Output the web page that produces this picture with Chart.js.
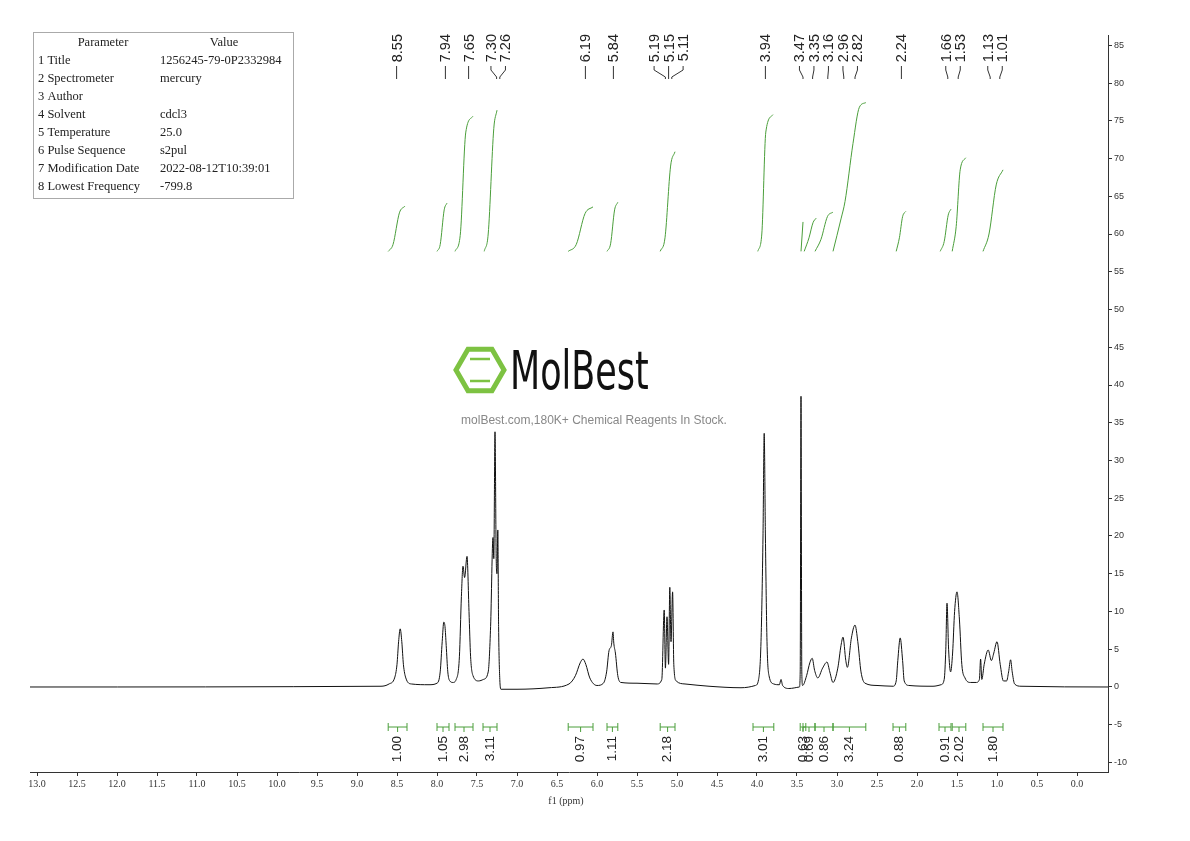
<!DOCTYPE html>
<html><head><meta charset="utf-8">
<script src="https://cdn.jsdelivr.net/npm/chart.js@4/dist/chart.umd.min.js"></script>
<style>html,body{margin:0;padding:0;background:#fff}#w{width:1190px;height:841px}</style>
</head><body><div id="w"><canvas id="c"></canvas></div>
<script>
const spectrum = [[13.09,0],[8.70,0.1],[8.60,0.4],[8.53,1.2],[8.50,3],[8.48,6],[8.46,7.7],[8.44,6],[8.42,3],[8.39,1.2],[8.32,0.4],[8.10,0.3],
[8.00,0.5],[7.96,2],[7.935,6],[7.915,8.6],[7.90,8.0],[7.885,5.5],[7.865,2],[7.84,0.8],[7.80,0.6],
[7.76,1.0],[7.72,4],[7.695,12],[7.675,16],[7.655,14.5],[7.625,17.3],[7.60,10],[7.58,4],[7.55,1.5],[7.48,0.8],[7.42,1.0],
[7.36,2],[7.33,8],[7.30,19.8],[7.29,17],[7.275,33.8],[7.26,17],[7.25,15],[7.24,20.8],[7.23,8],[7.215,1],[7.20,-0.3],[7.0,-0.3],[6.6,-0.1],[6.35,0.4],[6.27,1.5],[6.21,3.2],[6.175,3.7],[6.14,3],[6.09,1.2],[6.0,0.2],
[5.92,0.5],[5.88,2],[5.85,4.8],[5.82,5.5],[5.80,7.3],[5.79,5.8],[5.77,4.5],[5.74,1.5],[5.70,0.6],[5.5,0.5],[5.25,0.4],[5.19,1],[5.16,10.2],[5.145,2.5],[5.125,9.3],[5.105,3],[5.09,13.2],[5.075,6],[5.055,12.6],[5.04,3],[5.01,0.8],[4.9,0.4],[4.6,0.1],[4.2,-0.1],
[4.02,0.2],[3.98,1],[3.95,6],[3.925,20],[3.91,33.6],[3.895,20],[3.875,6],[3.85,1.5],[3.79,0.4],[3.72,0.3],[3.70,1.0],[3.68,0.2],[3.60,-0.2],[3.47,0],[3.46,2],[3.45,38.5],[3.44,2],[3.43,0.2],
[3.38,1.5],[3.34,3.2],[3.31,3.8],[3.28,2.2],[3.24,1.2],[3.18,2.5],[3.125,3.3],[3.09,2],[3.05,0.6],[2.99,2.5],[2.95,5.5],[2.925,6.6],[2.89,3.5],[2.87,2.6],[2.82,6.5],[2.775,8.2],[2.74,6],[2.70,2],[2.65,0.5],[2.5,0.2],
[2.30,0.1],[2.26,0.8],[2.24,3.5],[2.21,6.5],[2.18,3.5],[2.16,0.8],[2.1,0.2],[1.8,0.1],[1.70,0.3],[1.66,1],[1.64,5],[1.625,11.1],[1.605,5],[1.58,2],[1.555,4.5],[1.53,10],[1.50,12.6],[1.47,9],[1.44,3],[1.40,1.2],[1.33,0.6],
[1.26,0.6],[1.22,1],[1.205,3.7],[1.19,1],[1.16,3],[1.11,4.9],[1.07,3.5],[1.04,4.5],[1.00,6.0],[0.96,3],[0.92,0.8],[0.88,0.8],[0.855,2],[0.83,3.6],[0.81,2],[0.78,0.4],[0.70,0.1],[-0.39,0]];

const integralCurves = [
[[8.61,57.7],[8.55,58.6],[8.47,62.8],[8.40,63.7]],
[[8.00,57.7],[7.96,58.6],[7.91,63.2],[7.875,64.1]],
[[7.775,57.7],[7.71,59.8],[7.64,73.5],[7.55,75.6]],
[[7.41,57.7],[7.36,60],[7.29,74],[7.25,76.4]],
[[6.36,57.7],[6.26,58.6],[6.15,62.7],[6.05,63.6]],
[[5.875,57.7],[5.83,58.7],[5.78,63.2],[5.74,64.2]],
[[5.21,57.7],[5.15,59.5],[5.08,69],[5.025,70.9]],
[[3.99,57.7],[3.94,60],[3.89,73.5],[3.80,75.8]],
[[3.45,57.7],[3.425,61.6]],
[[3.41,57.7],[3.35,59.5],[3.30,61.5],[3.26,62.1]],
[[3.275,57.7],[3.20,59.3],[3.12,62.3],[3.05,62.9]],
[[3.05,57.7],[2.95,62],[2.90,64.3],[2.80,72],[2.72,76.8],[2.64,77.4]],
[[2.26,57.7],[2.22,59.5],[2.18,62.3],[2.14,63.0]],
[[1.71,57.7],[1.66,59],[1.61,62.5],[1.575,63.3]],
[[1.56,57.7],[1.51,61],[1.46,68.5],[1.39,70.1]],
[[1.175,57.7],[1.10,60],[1.01,66.5],[0.925,68.5]]];

const peakLabels = [8.55,7.94,7.65,7.30,7.26,6.19,5.84,5.19,5.15,5.11,3.94,3.47,3.35,3.16,2.96,2.82,2.24,1.66,1.53,1.13,1.01];
const integralValues = ["1.00","1.05","2.98","3.11","0.97","1.11","2.18","3.01","0.63","0.69","0.86","3.24","0.88","0.91","2.02","1.80"];
const integralFrom = [8.61,8.0,7.775,7.425,6.36,5.875,5.21,4.05,3.46,3.425,3.275,3.05,2.3,1.725,1.56,1.175];
const integralTo   = [8.375,7.85,7.55,7.25,6.05,5.74,5.025,3.79,3.39,3.275,3.05,2.64,2.14,1.575,1.39,0.925];
const tableRows = [["1 Title","1256245-79-0P2332984"],["2 Spectrometer","mercury"],["3 Author",""],["4 Solvent","cdcl3"],["5 Temperature","25.0"],["6 Pulse Sequence","s2pul"],["7 Modification Date","2022-08-12T10:39:01"],["8 Lowest Frequency","-799.8"]];

const GREEN = '#4a9e3a';
const datasets = [{data: spectrum.map(p=>({x:p[0],y:p[1]})), borderColor:'#111', borderWidth:1, pointRadius:0, cubicInterpolationMode:'monotone'}];
integralCurves.forEach(c=>datasets.push({data:c.map(p=>({x:p[0],y:p[1]})), borderColor:GREEN, borderWidth:1, pointRadius:0, cubicInterpolationMode:'monotone'}));

const deco = {
  id:'deco',
  beforeDatasetsDraw(ch){
    const ctx=ch.ctx;
    ctx.save();
    const cx=480, cy=370, r=24;
    ctx.strokeStyle='#7dc242'; ctx.lineWidth=5;
    ctx.beginPath();
    for(let i=0;i<6;i++){const a=Math.PI/3*i; const px=cx+r*Math.cos(a), py=cy+r*Math.sin(a); i?ctx.lineTo(px,py):ctx.moveTo(px,py);}
    ctx.closePath(); ctx.stroke();
    ctx.lineWidth=2.5; ctx.beginPath(); ctx.moveTo(cx-10,cy-11); ctx.lineTo(cx+10,cy-11); ctx.moveTo(cx-10,cy+11); ctx.lineTo(cx+10,cy+11); ctx.stroke();
    ctx.fillStyle='#111'; ctx.font='54px "DejaVu Sans Condensed","Liberation Sans Narrow",sans-serif';
    ctx.textBaseline='middle'; ctx.textAlign='left';
    ctx.save(); ctx.translate(510,375); ctx.scale(0.72,1); ctx.fillText('MolBest',0,0); ctx.restore();
    ctx.fillStyle='#888'; ctx.font='12px "Liberation Sans",Arial,sans-serif'; ctx.textAlign='center';
    ctx.fillText('molBest.com,180K+ Chemical Reagents In Stock.',594,421);
    ctx.restore();
  },
  afterDraw(ch){
    const ctx=ch.ctx, xs=ch.scales.x, ys=ch.scales.y;
    ctx.save();
    ctx.strokeStyle='#aaa'; ctx.lineWidth=1; ctx.strokeRect(33.5,32.5,260,166);
    ctx.fillStyle='#222'; ctx.font='12.5px "Liberation Serif","DejaVu Serif",serif'; ctx.textBaseline='middle';
    ctx.textAlign='center'; ctx.fillText('Parameter',103,43); ctx.fillText('Value',224,43);
    ctx.textAlign='left';
    tableRows.forEach((r,i)=>{ctx.fillText(r[0],38,61+18*i); ctx.fillText(r[1],160,61+18*i);});
    ctx.font='10px "Liberation Serif",serif'; ctx.fillStyle='#333'; ctx.textAlign='center';
    ctx.fillText('f1 (ppm)',566,801);
    const tgt=peakLabels.map(v=>xs.getPixelForValue(v-0.045));
    const gap=14.5;
    let groups=tgt.map((t,i)=>({idx:[i],c:t}));
    let changed=true;
    const pos=g=>g.idx.map((_,k)=>g.c+(k-(g.idx.length-1)/2)*gap);
    while(changed){changed=false;
      for(let i=0;i<groups.length-1;i++){
        const a=pos(groups[i]), b=pos(groups[i+1]);
        if(b[0]-a[a.length-1]<gap){
          const idx=groups[i].idx.concat(groups[i+1].idx);
          const c=idx.reduce((s,j)=>s+tgt[j],0)/idx.length;
          groups.splice(i,2,{idx,c}); changed=true; break;}
      }}
    const lx=[]; groups.forEach(g=>{const p=pos(g); g.idx.forEach((j,k)=>lx[j]=p[k]);});
    ctx.font='14.5px "Liberation Sans",Arial,sans-serif'; ctx.fillStyle='#222'; ctx.strokeStyle='#333'; ctx.lineWidth=1;
    peakLabels.forEach((v,i)=>{
      ctx.save(); ctx.translate(lx[i]+1,34); ctx.rotate(-Math.PI/2); ctx.textAlign='right'; ctx.textBaseline='middle';
      ctx.fillText(v.toFixed(2),0,0); ctx.restore();
      ctx.beginPath(); ctx.moveTo(lx[i],66); ctx.lineTo(lx[i],70); ctx.lineTo(tgt[i],77); ctx.lineTo(tgt[i],79); ctx.stroke();
    });
    const by=ys.getPixelForValue(-5.3);
    ctx.font='13.5px "Liberation Sans",Arial,sans-serif';
    integralValues.forEach((t,i)=>{
      const a=xs.getPixelForValue(integralFrom[i]), b=xs.getPixelForValue(integralTo[i]);
      ctx.strokeStyle=GREEN; ctx.beginPath(); ctx.moveTo(a,by); ctx.lineTo(b,by); ctx.moveTo(a,by-4); ctx.lineTo(a,by+4); ctx.moveTo(b,by-4); ctx.lineTo(b,by+4);
      const m=(a+b)/2; ctx.moveTo(m,by); ctx.lineTo(m,by+5); ctx.stroke();
      ctx.fillStyle='#222'; ctx.save(); ctx.translate(m,by+9); ctx.rotate(-Math.PI/2); ctx.textAlign='right'; ctx.textBaseline='middle'; ctx.fillText(t,0,0); ctx.restore();
    });
    ctx.restore();
  }
};

new Chart(document.getElementById('c'),{
  type:'line',
  data:{datasets},
  plugins:[deco],
  options:{
    responsive:true, maintainAspectRatio:false, animation:false,
    layout:{padding:{left:30,top:35,right:0,bottom:0}},
    plugins:{legend:{display:false},tooltip:{enabled:false}},
    scales:{
      x:{type:'linear', reverse:true, min:-0.3875, max:13.0875,
        afterFit(s){s.height=69;},
        afterBuildTicks(s){const t=[];for(let v=0;v<=13.001;v+=0.5)t.push({value:Math.round(v*10)/10});s.ticks=t;},
        grid:{drawOnChartArea:false,drawTicks:true,tickLength:4,color:'#333'},
        border:{display:true,color:'#333'},
        ticks:{autoSkip:false,maxRotation:0,color:'#333',font:{family:'"Liberation Serif",serif',size:10},padding:2,callback:v=>v.toFixed(1)}},
      y:{type:'linear', position:'right', min:-11.26, max:86.36,
        afterFit(s){s.width=82;},
        afterBuildTicks(s){const t=[];for(let v=-10;v<=85;v+=5)t.push({value:v});s.ticks=t;},
        grid:{drawOnChartArea:false,drawTicks:true,tickLength:4,color:'#333'},
        border:{display:true,color:'#333'},
        ticks:{autoSkip:false,color:'#333',font:{family:'"Liberation Sans",sans-serif',size:9},padding:2}}
    }
  }
});
</script></body></html>
